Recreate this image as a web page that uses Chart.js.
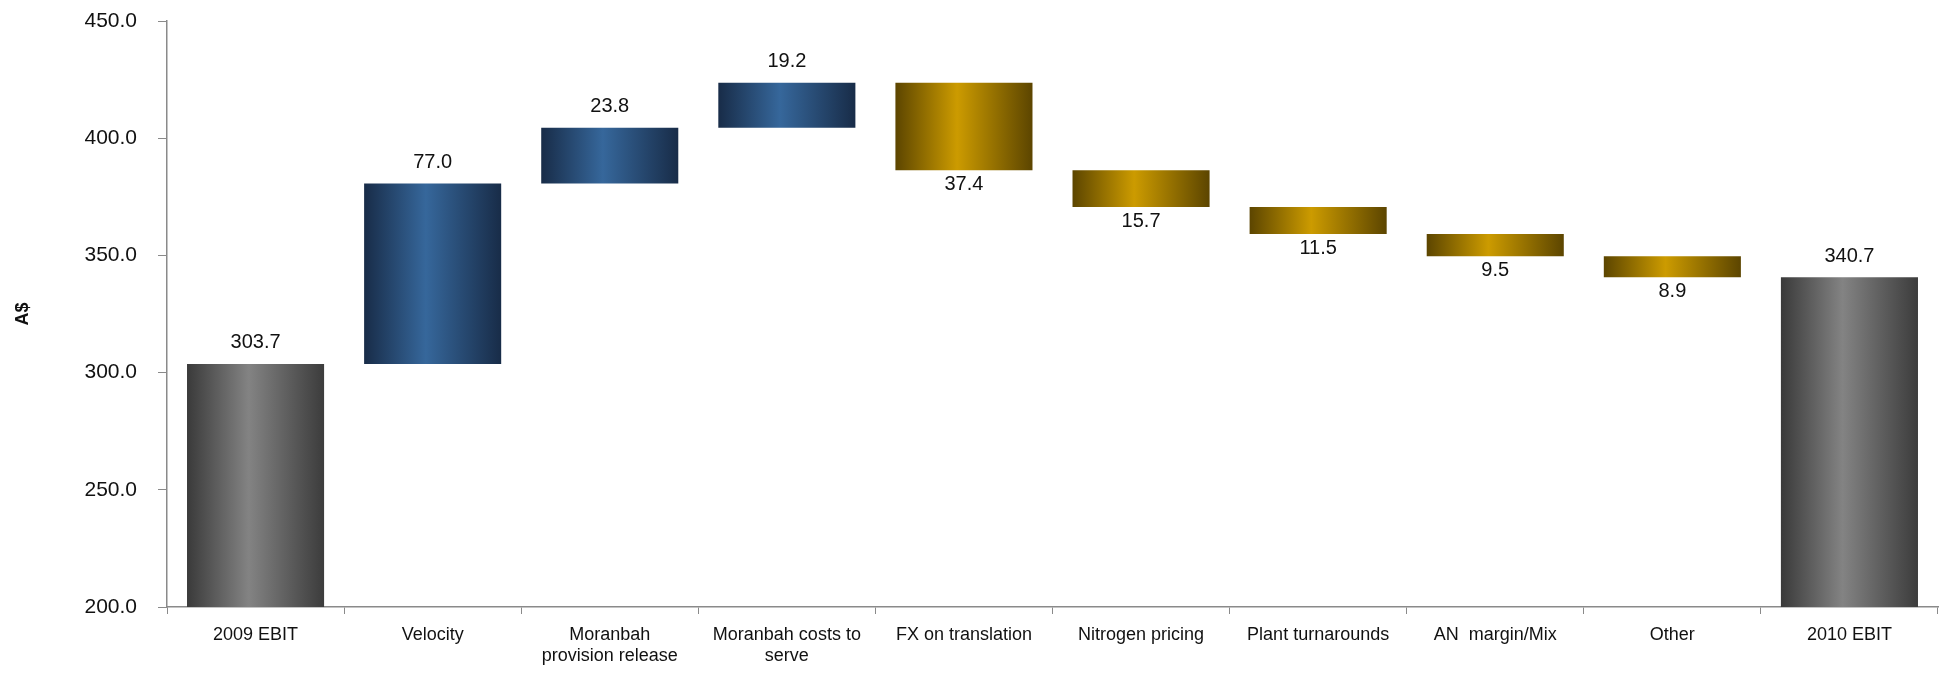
<!DOCTYPE html>
<html>
<head>
    <title>EBIT bridge 2009 - 2010</title>
    <script src="https://cdn.jsdelivr.net/npm/chart.js"></script>
    <style>
        html, body { margin: 0; padding: 0; background: #ffffff; }
        .chart-box { width: 1941px; height: 676px; position: relative; }
    </style>
</head>
<body>
    <div class="chart-box"><canvas id="bridgeChart"></canvas></div>

    <script type="text/javascript">
        // categories on the x axis (multi-line ones as arrays)
        var categories = [
            '2009 EBIT',
            'Velocity',
            ['Moranbah', 'provision release'],
            ['Moranbah costs to', 'serve'],
            'FX on translation',
            'Nitrogen pricing',
            'Plant turnarounds',
            'AN  margin/Mix',
            'Other',
            '2010 EBIT'
        ];
        // bar start / end values (A$) - the bridge
        var barStart = [200, 303.7, 380.7, 404.5, 423.7, 386.3, 370.6, 359.1, 349.6, 200];
        var barEnd   = [303.7, 380.7, 404.5, 423.7, 386.3, 370.6, 359.1, 349.6, 340.7, 340.7];
        // labels shown on the bars
        var barLabels = ['303.7', '77.0', '23.8', '19.2', '37.4', '15.7', '11.5', '9.5', '8.9', '340.7'];
        // kind of bar: total / up / down
        var barKind = ['total', 'up', 'up', 'up', 'down', 'down', 'down', 'down', 'down', 'total'];

        var yTicks = [200, 250, 300, 350, 400, 450];

        var barPct = 0.774;

        var colours = {
            total: ['#3a3a3a', '#838383', '#3c3c3c'],
            up:    ['#182c48', '#36679b', '#182c48'],
            down:  ['#5c4500', '#cc9b00', '#5c4500']
        };

        function barFill(ctx) {
            var chart = ctx.chart;
            if (!chart.chartArea || ctx.dataIndex === undefined) return '#888';
            var xs = chart.scales.x;
            var cx = xs.getPixelForValue(ctx.dataIndex);
            var w = xs.width / categories.length * barPct;
            var c = colours[barKind[ctx.dataIndex]];
            var g = chart.ctx.createLinearGradient(cx - w / 2, 0, cx + w / 2, 0);
            g.addColorStop(0, c[0]);
            g.addColorStop(0.45, c[1]);
            g.addColorStop(1, c[2]);
            return g;
        }

        // draws the value label above (total/up) or below (down) each bar
        var valueLabels = {
            id: 'valueLabels',
            afterDatasetsDraw: function(chart) {
                var ctx = chart.ctx;
                var meta = chart.getDatasetMeta(0);
                ctx.save();
                ctx.font = '20px "Liberation Sans", Arial, sans-serif';
                ctx.fillStyle = '#111';
                ctx.textAlign = 'center';
                meta.data.forEach(function(bar, i) {
                    var top = Math.min(bar.y, bar.base);
                    var bottom = Math.max(bar.y, bar.base);
                    if (barKind[i] === 'down') {
                        ctx.textBaseline = 'top';
                        ctx.fillText(barLabels[i], bar.x, bottom + 4);
                    } else {
                        ctx.textBaseline = 'bottom';
                        ctx.fillText(barLabels[i], bar.x, top - 11);
                    }
                });
                ctx.restore();
            }
        };

        var data = barStart.map(function(s, i) { return [s, barEnd[i]]; });

        var bridgeChart = new Chart(document.getElementById('bridgeChart').getContext('2d'), {
            type: 'bar',
            data: {
                labels: categories,
                datasets: [{
                    label: 'A$',
                    data: data,
                    backgroundColor: barFill,
                    borderWidth: 0,
                    barPercentage: barPct,
                    categoryPercentage: 1.0
                }]
            },
            options: {
                responsive: true,
                maintainAspectRatio: false,
                animation: false,
                layout: { padding: { top: 21, right: 3, left: 0, bottom: 0 } },
                plugins: {
                    legend: { display: false },
                    tooltip: { enabled: false }
                },
                scales: {
                    x: {
                        grid: {
                            offset: true,
                            drawOnChartArea: false,
                            drawTicks: true,
                            tickLength: 7,
                            color: '#8a8a8a'
                        },
                        border: { color: '#8a8a8a', width: 1.5 },
                        ticks: {
                            color: '#111',
                            font: { family: '"Liberation Sans", Arial, sans-serif', size: 18 },
                            padding: 10,
                            maxRotation: 0,
                            autoSkip: false
                        },
                        afterFit: function(scale) { scale.height = 69; }
                    },
                    y: {
                        min: 200,
                        max: 450,
                        afterBuildTicks: function(scale) {
                            scale.ticks = yTicks.map(function(v) { return { value: v }; });
                        },
                        grid: {
                            drawOnChartArea: false,
                            drawTicks: true,
                            tickLength: 9,
                            color: '#8a8a8a'
                        },
                        border: { color: '#8a8a8a', width: 1.5 },
                        ticks: {
                            color: '#111',
                            font: { family: '"Liberation Sans", Arial, sans-serif', size: 21 },
                            padding: 21,
                            callback: function(v) { return Number(v).toFixed(1); }
                        },
                        title: {
                            display: true,
                            text: 'A$',
                            color: '#111',
                            font: { family: '"Liberation Sans", Arial, sans-serif', size: 18, weight: 'bold' },
                            padding: { top: 12, bottom: 0 }
                        },
                        afterFit: function(scale) {
                            scale.width = 167;
                            scale.paddingTop = 0;
                            scale.paddingBottom = 0;
                        }
                    }
                }
            },
            plugins: [valueLabels]
        });
    </script>
</body>
</html>
